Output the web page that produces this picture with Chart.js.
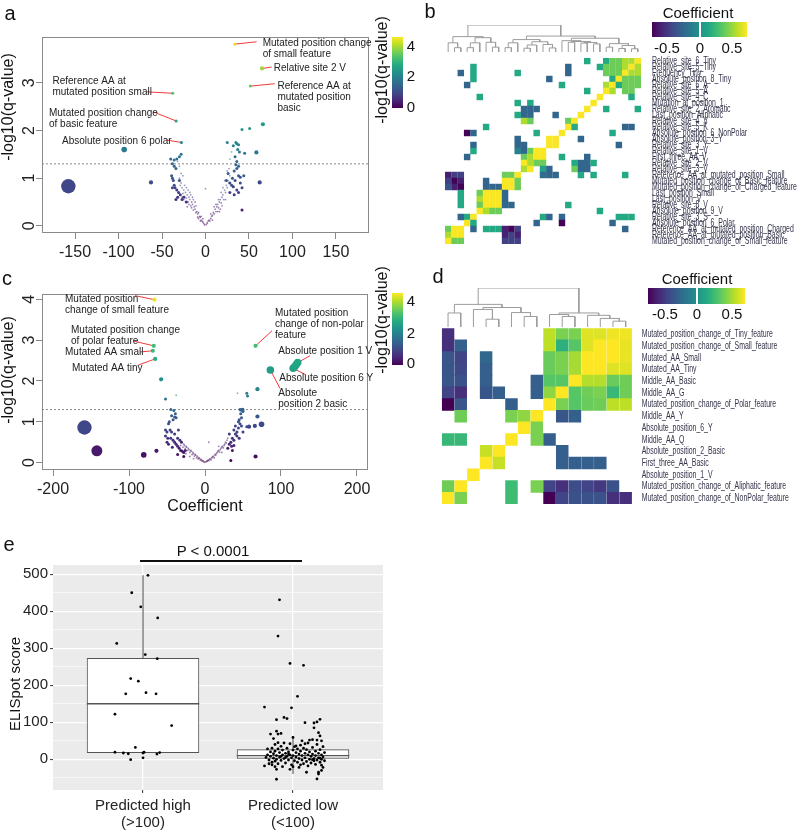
<!DOCTYPE html>
<html><head><meta charset="utf-8">
<script src="https://cdn.jsdelivr.net/npm/chart.js@4.4.1/dist/chart.umd.min.js"></script>
<style>
body{margin:0;background:#fff;width:800px;height:831px;position:relative;overflow:hidden;font-family:"Liberation Sans",Arial,sans-serif;}
canvas{position:absolute;}
.t{position:absolute;white-space:nowrap;color:#111;line-height:1;transform:translate(-50%,-50%);}
.r{transform:translate(-50%,-50%) rotate(-90deg);}
.cb{position:absolute;}
</style></head><body>
<canvas id="cA" width="380" height="265" style="left:0;top:0"></canvas>
<canvas id="cC" width="380" height="230" style="left:0;top:270px"></canvas>
<canvas id="dB" width="370" height="40" style="left:430px;top:18px"></canvas>
<canvas id="hB" width="370" height="200" style="left:430px;top:50px"></canvas>
<canvas id="dD" width="370" height="46" style="left:430px;top:284px"></canvas>
<canvas id="hD" width="370" height="190" style="left:430px;top:320px"></canvas>
<canvas id="cE" width="400" height="291" style="left:0;top:540px"></canvas>

<div class="t" style="left:10px;top:13px;font-size:20px">a</div>
<div class="t" style="left:430px;top:11px;font-size:20px">b</div>
<div class="t" style="left:7px;top:278px;font-size:20px">c</div>
<div class="t" style="left:438px;top:276px;font-size:20px">d</div>
<div class="t" style="left:9px;top:544px;font-size:20px">e</div>

<div class="t r" style="left:8px;top:107px;font-size:16px">-log10(q-value)</div>
<div class="t r" style="left:382px;top:70px;font-size:16px">-log10(q-value)</div>
<div class="cb" id="cbA" style="left:392px;top:37px;width:11px;height:71px"></div>
<div class="t" style="left:411px;top:45px;font-size:15px">4</div>
<div class="t" style="left:411px;top:75px;font-size:15px">2</div>
<div class="t" style="left:411px;top:106px;font-size:15px">0</div>

<div class="t r" style="left:8px;top:370px;font-size:16px">-log10(q-value)</div>
<div class="t r" style="left:382px;top:320px;font-size:16px">-log10(q-value)</div>
<div class="cb" id="cbC" style="left:392px;top:293px;width:11px;height:72px"></div>
<div class="t" style="left:411px;top:300px;font-size:15px">4</div>
<div class="t" style="left:411px;top:332px;font-size:15px">2</div>
<div class="t" style="left:411px;top:362px;font-size:15px">0</div>
<div class="t" style="left:205px;top:506px;font-size:16px">Coefficient</div>

<div class="t" style="left:698px;top:12px;font-size:15px">Coefficient</div>
<div class="cb" id="cbB" style="left:652px;top:22px;width:95px;height:15px"></div>
<div class="cb" style="left:699px;top:22px;width:1.5px;height:15px;background:#fff"></div>
<div class="t" style="left:667px;top:47px;font-size:15px">-0.5</div>
<div class="t" style="left:700px;top:47px;font-size:15px">0</div>
<div class="t" style="left:732px;top:47px;font-size:15px">0.5</div>

<div class="t" style="left:697px;top:278px;font-size:15px">Coefficient</div>
<div class="cb" id="cbD" style="left:648px;top:288px;width:97px;height:16px"></div>
<div class="cb" style="left:696px;top:288px;width:1.5px;height:16px;background:#fff"></div>
<div class="t" style="left:665px;top:313px;font-size:15px">-0.5</div>
<div class="t" style="left:697px;top:313px;font-size:15px">0</div>
<div class="t" style="left:732px;top:313px;font-size:15px">0.5</div>

<div class="t r" style="left:14px;top:684px;font-size:15px">ELISpot score</div>
<div class="t" style="left:213px;top:550px;font-size:15px">P &lt; 0.0001</div>
<div class="cb" style="left:140px;top:560px;width:162px;height:1.5px;background:#111"></div>

<script>
// ===================== DATA =====================
// Panel a: volcano (coefficient, -log10 q)
const aTiny = [[-1,0.02],[-2,0.05],[-3,0.08],[-3,0.15],[-4,0.1],[-5,0.12],[-6,0.18],[-6,0.1],[-7,0.2],[-8,0.15],[-8,0.28],[-9,0.25],[-10,0.3],[-11,0.28],[-12,0.35],[-12,0.5],[-13,0.4],[-14,0.33],[-15,0.45],[-15,0.6],[-16,0.5],[-16,0.38],[-17,0.42],[-18,0.55],[-18,0.7],[-19,0.6],[-20,0.5],[-20,0.75],[-21,0.65],[-22,0.58],[-22,0.8],[-23,0.7],[-24,0.62],[-24,0.85],[-25,0.75],[-25,0.55],[-26,0.68],[-26,1.05],[-27,0.8],[-27,0.6],[-28,0.9],[-28,1.1],[-29,0.85],[-30,1.0],[-30,1.25],[-32,1.35],[-19,0.45],[-21,0.4],[-14,0.55],[-11,0.42],[-23,0.5],[-17,0.65],[-9,0.18],[-5,0.2],
 [1,0.03],[2,0.06],[3,0.1],[4,0.12],[5,0.1],[6,0.15],[7,0.2],[8,0.22],[9,0.28],[10,0.25],[10,0.4],[11,0.35],[12,0.3],[12,0.45],[13,0.4],[14,0.45],[15,0.38],[15,0.55],[16,0.5],[16,0.3],[17,0.55],[18,0.48],[18,0.7],[19,0.6],[20,0.65],[20,0.8],[21,0.55],[22,0.75],[22,0.95],[23,0.7],[24,0.85],[25,0.8],[25,1.15],[26,0.95],[27,0.9],[27,1.2],[28,1.05],[28,1.4],[30,1.55],[0,0.78],[14,0.3],[19,0.42],[23,0.55],[17,0.35],[8,0.12],[6,0.25]];
const aSmall = [[-40,1.4],[-38,1.3],[-36,1.38],[-33,1.4],[-30,1.45],[-28,1.5],[-39,1.05],[-38,1.0],[-37,0.95],[-36,0.85],[-35,0.8],[-33,0.75],[-31,0.7],[-38,0.8],[-29,0.65],[-34,1.2],[-36,1.25],[-30,0.95],[-32,0.6],[-27,0.55],[-25,0.6],[-34,0.55],[-22,0.5],
 [25,1.75],[32,1.68],[35,1.75],[36,1.72],[38,1.7],[37,1.6],[39,1.55],[34,1.45],[36,1.35],[35,1.28],[38,1.25],[36,1.2],[33,1.15],[31,1.0],[26,1.1],[28,0.9],[30,0.85],[32,0.82],[34,0.95],[38,1.05],[40,1.02],[44,1.05],[36,0.75],[33,0.65],[28,0.7],[40,0.9],[42,0.8],[38,0.7],[24,0.95]];
// [coef, -log10 q, bubble weight]
const aOther = [[33.5,3.81,2],[65,3.3,3],[51.5,2.93,2],[-37.7,2.78,2],[-33.8,2.2,2],[-27.7,1.75,2],[-93.5,1.6,4],[-157.7,0.83,7],[-62.7,0.91,3],[62.3,0.91,3],[42,2.02,2],[50.8,2.04,2],[66,2.13,3],[58.5,1.54,3],[45,1.52,2],[42,0.33,2]];
const aXTicks = [-150,-100,-50,0,50,100,150];
const aYTicks = [0,1,2,3];
const aNotes = [
 {lines:["Mutated position change","of small feature"], at:[65.7,3.83], pt:[33.5,3.81], end:[58.8,3.86]},
 {lines:["Relative site 2 V"], at:[78.4,3.31], pt:[65,3.3], end:[76.1,3.33]},
 {lines:["Reference AA at","mutated position","basic"], at:[82.7,2.93], pt:[51.5,2.93], end:[79.6,2.98]},
 {lines:["Reference AA at","mutated position small"], at:[-176,3.04], pt:[-37.7,2.78], end:[-67.7,2.81]},
 {lines:["Mutated position change","of basic feature"], at:[-180,2.37], pt:[-33.8,2.2], end:[-60,2.39]},
 {lines:["Absolute position 6 polar"], at:[-165,1.78], pt:[-27.7,1.75], end:[-45.3,1.80]}
];

// Panel c: volcano
const cTiny = [[-1,0.01],[-2,0.03],[-3,0.05],[-4,0.04],[-5,0.08],[-6,0.06],[-7,0.1],[-8,0.12],[-9,0.09],[-10,0.15],[-11,0.12],[-12,0.18],[-13,0.2],[-14,0.16],[-15,0.22],[-16,0.25],[-17,0.2],[-18,0.28],[-19,0.3],[-20,0.25],[-21,0.32],[-22,0.35],[-23,0.3],[-24,0.38],[-25,0.4],[-26,0.35],[-27,0.42],[-28,0.45],[-29,0.38],[-30,0.5],[-32,0.42],[-20,0.15],[-25,0.22],[-15,0.1],[-30,0.3],
 [1,0.02],[2,0.03],[3,0.04],[4,0.06],[5,0.05],[6,0.08],[7,0.1],[8,0.07],[9,0.12],[10,0.14],[11,0.16],[12,0.12],[13,0.2],[14,0.18],[15,0.22],[16,0.25],[17,0.28],[18,0.3],[19,0.26],[20,0.32],[21,0.35],[22,0.38],[23,0.4],[24,0.36],[25,0.42],[26,0.45],[27,0.5],[28,0.48],[29,0.55],[30,0.6],[5,0.5],[22,0.25],[18,0.4]];
const cSmall = [[-50,0.5],[-48,0.45],[-45,0.6],[-42,0.55],[-40,0.5],[-38,0.45],[-36,0.4],[-34,0.35],[-32,0.3],[-30,0.28],[-28,0.25],[-26,0.3],[-36,0.6],[-40,0.7],[-44,0.75],[-46,0.8],[-50,0.75],[-52,0.65],[-48,0.95],[-47,1.0],[-42,1.05],[-40,1.12],[-38,1.1],[-44,1.15],[-45,1.3],[-41,1.28],[-39,1.2],[-52,0.8],[-35,0.8],[-33,0.55],[-31,0.5],[-36,0.2],[-28,0.15],[-49,0.6],[-43,0.38],
 [30,0.35],[32,0.45],[34,0.5],[35,0.4],[36,0.6],[38,0.55],[40,0.7],[42,0.65],[38,0.8],[40,0.9],[44,0.85],[46,0.95],[45,1.05],[48,1.1],[47,1.2],[46,1.3],[44,1.0],[42,0.75],[36,0.3],[34,0.05],[50,1.25],[48,0.9],[45,0.6],[32,0.7],[55,0.88],[50,0.75],[38,0.42]];
const cOther = [[-158.6,0.86,7],[-142.3,0.29,6],[-80.6,0.19,4],[-63.9,0.29,3],[66.5,0.15,3],[74.4,0.94,4],[69,1.13,3],[49.3,1.29,3],[47,1.29,2],[69,1.8,3],[55,1.7,2],[56,1.63,2],[42.7,1.7,1],[-57.7,2.04,3],[-52,1.56,2],[-37.9,1.65,1],[86,2.27,5],[116,2.31,5],[118,2.35,5],[120,2.4,5],[122,2.45,5],[66.5,2.86,3],[-66.5,3.99,3],[-67.4,2.86,3],[-68.7,2.74,3],[-65.6,2.54,3],[58,0.88,3],[65.6,0.9,3]];
const cXTicks = [-200,-100,0,100,200];
const cYTicks = [0,1,2,3,4];
const cNotes = [
 {lines:["Mutated position","change of small feature"], at:[-184.2,4.01], pt:[-66.5,3.99], end:[-92.1,4.09]},
 {lines:["Mutated position change","of polar feature"], at:[-176.3,3.24], pt:[-67.4,2.86], end:[-94.3,2.98]},
 {lines:["Mutated AA small"], at:[-184.2,2.70], pt:[-68.7,2.74], end:[-85.5,2.71]},
 {lines:["Mutated AA tiny"], at:[-175,2.30], pt:[-65.6,2.54], end:[-87.8,2.39]},
 {lines:["Mutated position","change of non-polar","feature"], at:[92.1,3.66], pt:[66.5,2.86], end:[88.2,3.23]},
 {lines:["Absolute position 1 V"], at:[96.4,2.72], pt:[122,2.45], end:[138.2,2.62]},
 {lines:["Absolute position 6 Y"], at:[97.8,2.07], pt:[116,2.31], end:[132.9,2.15]},
 {lines:["Absolute","position 2 basic"], at:[96.4,1.70], pt:[86,2.27], end:[98.7,1.82]}
];
const qThreshold = 1.3;

// Panel b: correlation heatmap [row, col, coefficient]
const bLabels = ["Relative_site_6_Tiny","Relative_site_5_Tiny","Frequency_Tiny","Absolute_position_8_Tiny","Relative_site_6_A","Relative_site_5_A","Relative_site_4_C","Mutation_at_position_1","Relative_site_2_Aromatic","Last_position_Aliphatic","Relative_site_4_V","Relative_site_5_K","Absolute_position_6_NonPolar","Absolute_position_3_Y","Relative_site_3_Y","Relative_site_1_V","First_three_AA_V","Relative_site_2_V","Relative_site_3_V","Reference_AA_at_mutated_position_Small","Mutated_position_change_of_Basic_feature","Mutated_position_change_of_Charged_feature","Last_position_Small","Last_position_V","Relative_site_8_V","Absolute_position_9_V","Relative_site_3_S","Absolute_position_6_Polar","Reference_AA_at_mutated_position_Charged","Reference_AA_at_mutated_position_Basic","Mutated_position_change_of_Small_feature"];
const bCells = [
[0,22,0.15],[0,25,0.15],[0,26,0.4],[0,27,0.4],[0,28,0.55],[0,29,0.55],[0,30,0.72],
[1,4,0.15],[1,19,-0.25],[1,24,0.15],[1,25,0.4],[1,26,0.4],[1,27,0.4],[1,28,0.55],[1,29,0.72],[1,30,0.55],
[2,2,-0.25],[2,4,0.15],[2,11,0.15],[2,19,-0.25],[2,25,0.4],[2,26,0.4],[2,27,0.4],[2,28,0.72],[2,29,0.55],[2,30,0.55],
[3,4,0.15],[3,16,-0.25],[3,26,0.15],[3,27,0.72],[3,28,0.4],[3,29,0.4],[3,30,0.4],
[4,3,-0.25],[4,18,0.15],[4,25,0.55],[4,26,0.72],[4,27,0.15],[4,28,0.4],[4,29,0.4],[4,30,0.4],
[5,22,0.15],[5,25,0.72],[5,26,0.55],[5,28,0.4],[5,29,0.4],
[6,5,0.15],[6,24,0.72],[6,29,0.15],
[7,11,0.15],[7,13,0.15],[7,23,0.72],
[8,12,-0.25],[8,13,-0.25],[8,14,-0.25],[8,22,0.72],[8,25,0.15],[8,30,0.15],
[9,11,0.15],[9,12,-0.25],[9,13,-0.25],[9,17,-0.25],[9,21,0.72],
[10,12,0.55],[10,13,0.4],[10,19,0.4],[10,20,0.72],
[11,6,0.15],[11,19,0.72],[11,20,0.15],[11,28,-0.25],[11,29,-0.25],
[12,3,-0.72],[12,4,-0.25],[12,14,0.15],[12,18,0.72],[12,26,0.15],
[13,11,-0.25],[13,16,0.72],[13,17,0.72],[13,21,-0.25],
[14,4,-0.25],[14,11,-0.25],[14,12,-0.25],[14,16,0.72],[14,17,0.72],[14,27,-0.25],
[15,4,0.15],[15,11,-0.1],[15,12,-0.25],[15,13,0.4],[15,14,0.72],[15,15,0.72],
[16,3,-0.25],[16,12,0.4],[16,13,0.55],[16,14,0.72],[16,15,0.72],[16,18,0.15],[16,22,-0.25],
[17,12,0.72],[17,13,0.55],[17,14,0.4],[17,15,0.4],[17,20,0.15],[17,21,-0.25],[17,22,-0.25],[17,23,0.15],
[18,12,0.55],[18,13,0.72],[18,15,0.1],[18,16,-0.25],[18,20,0.4],[18,21,-0.25],[18,22,-0.25],
[19,0,-0.6],[19,1,-0.45],[19,2,-0.45],[19,9,0.4],[19,10,0.4],[19,11,0.72],[19,15,-0.2],[19,16,-0.25],[19,17,-0.25],[19,21,0.15],[19,23,0.15],[19,28,0.15],
[20,0,-0.45],[20,1,-0.72],[20,2,-0.6],[20,6,-0.25],[20,9,0.72],[20,10,0.72],[20,11,0.4],
[21,0,-0.35],[21,1,-0.6],[21,2,-0.72],[21,6,-0.25],[21,7,-0.25],[21,8,-0.25],[21,9,0.72],[21,10,0.72],[21,11,0.4],
[22,2,0.15],[22,5,0.4],[22,6,0.72],[22,7,0.72],[22,8,0.72],[22,9,-0.25],
[23,2,0.15],[23,5,0.55],[23,6,0.72],[23,7,0.72],[23,8,0.72],[23,9,-0.25],
[24,2,0.15],[24,5,0.4],[24,6,0.72],[24,7,0.72],[24,8,0.72],[24,9,-0.25],[24,10,-0.25],[24,19,0.15],
[25,5,0.72],[25,6,0.55],[25,7,0.4],[25,8,0.4],[25,24,0.15],
[26,2,-0.25],[26,3,0.15],[26,4,0.72],[26,15,0.15],[26,16,-0.25],[26,18,-0.25],[26,27,0.15],[26,28,0.15],[26,29,0.15],
[27,3,0.72],[27,4,0.15],[27,14,-0.25],[27,18,-0.72],[27,26,-0.25],
[28,0,0.4],[28,1,0.72],[28,2,0.72],[28,4,-0.25],[28,6,0.15],[28,7,0.15],[28,8,0.15],[28,9,-0.6],[28,10,-0.72],[28,11,-0.45],[28,28,-0.25],
[29,0,0.55],[29,1,0.72],[29,2,0.72],[29,9,-0.6],[29,10,-0.45],[29,11,-0.6],
[30,0,0.72],[30,1,0.4],[30,2,0.4],[30,9,-0.45],[30,10,-0.45],[30,11,-0.45]];
// dendrogram of b columns: [height, left, right], leaf = column index
const bTree = [10,
 [5.7, [3.4, 0, [1.6, 1, 2]], [5.3, [3.4, [1.6, 3, 4], 5], [3.6, 6, [1.8, 7, 8]]]],
 [5.9, [4.6, [3.4, [1.6, 9, 10], 11], [3.8, [2.6, [1.4, 12, 13], 14], [2.8, 15, [1.5, 16, 17]]]],
       [5.1, [4.2, 18, [3.9, [3.6, 19, 20], [3.5, [3.3, 21, 22], [3.0, 23, 24]]]],
             [3.1, [1.8, 25, 26], [2.4, [1.3, 27, 28], [1.2, 29, 30]]]]]];

// Panel d: heatmap rows x columns (null = not shown)
const dLabels = ["Mutated_position_change_of_Tiny_feature","Mutated_position_change_of_Small_feature","Mutated_AA_Small","Mutated_AA_Tiny","Middle_AA_Basic","Middle_AA_G","Mutated_position_change_of_Polar_feature","Middle_AA_Y","Absolute_position_6_Y","Middle_AA_Q","Absolute_position_2_Basic","First_three_AA_Basic","Absolute_position_1_V","Mutated_position_change_of_Aliphatic_feature","Mutated_position_change_of_NonPolar_feature"];
const dMatrix = [
[-0.55,null,null,null,null,null,null,null,0.6,0.45,0.45,0.68,0.68,0.72,0.72],
[-0.55,-0.3,null,null,null,null,null,null,0.6,0.2,0.35,0.68,0.75,0.75,0.7],
[-0.35,-0.45,null,-0.25,null,null,null,null,0.4,0.45,0.55,0.75,0.75,0.75,0.7],
[-0.35,-0.42,null,-0.3,null,null,null,null,0.4,0.45,0.55,0.75,0.75,0.68,0.68],
[-0.35,-0.38,null,-0.3,null,null,null,-0.3,0.35,0.35,0.75,0.58,0.58,0.4,0.42],
[-0.45,-0.55,null,-0.35,-0.3,null,null,-0.3,0.5,0.75,0.35,0.42,0.45,0.25,0.42],
[-0.75,-0.35,null,null,null,-0.3,null,null,0.75,0.45,0.35,0.4,0.42,0.6,0.6],
[null,0.42,null,null,null,0.45,0.5,0.75,null,-0.35,-0.3,null,null,null,null],
[null,null,null,null,null,null,0.75,0.45,null,null,null,null,null,null,null],
[0.25,0.25,null,null,null,0.75,null,0.45,-0.3,null,null,null,null,null,null],
[null,null,null,0.62,0.75,null,null,null,null,-0.3,null,null,null,null,null],
[null,null,null,0.75,0.62,null,null,null,null,-0.3,-0.3,-0.3,-0.3,null,null],
[null,null,0.75,null,null,null,null,null,null,null,null,null,null,null,null],
[0.42,0.75,null,null,null,0.28,null,0.45,-0.45,-0.55,-0.4,-0.45,-0.5,-0.38,null],
[0.75,0.45,null,null,null,0.28,null,null,-0.75,-0.45,-0.38,-0.38,-0.38,-0.55,-0.55]];
const dTree = [10,
 [5.8, [3.6, 0, 1], [5.0, [4.5, 2, [2.0, 3, 4]], [3.7, 5, [2.7, 6, 7]]]],
 [3.6, [3.2, 8, [2.7, 9, 10]], [3.0, 11, [2.2, 12, [1.5, 13, 14]]]]];

// Panel e: ELISpot box plot
const eGroupLabels = [["Predicted high","(>100)"],["Predicted low","(<100)"]];
const eQ1 = [17, 0], eMedian = [150, 10], eQ3 = [274, 27];
const eWhiskerLow = [15, -40], eWhiskerHigh = [497, 63];
const eHigh = [[1.033,497],[0.925,450],[0.985,412],[1.098,382],[0.825,313],[1.015,283],[1.095,272],[0.918,218],[0.969,211],[0.885,177],[1.02,180],[1.087,177],[0.813,122],[1.191,91],[0.949,32],[0.813,19],[0.869,17],[0.902,15],[1.007,19],[1.0,17],[1.093,14],[1.111,18],[0.918,-1],[1.0,4]];
const eLow = [[1.91,431],[1.90,333],[1.98,259],[2.07,254],[2.03,170],[1.81,141],[1.99,139],[1.89,107],[1.94,113],[1.96,110],[2.08,99],[2.18,108],[2.16,101],[2.14,98],[2.14,85],[1.89,76],[1.92,70],[1.90,68],[1.85,68],[2.17,72],[2.18,63],[2.00,59],[1.87,56],[2.11,52],[2.13,53],[2.16,52],[2.19,50],[2.06,50],
 [1.89,-54],[2.16,-53],[2.17,-40],[2.17,-35],[2.09,-35],[2.20,-22],[1.81,-18],[1.89,-27],[1.98,-27],[2.04,-22],[2.19,-30],[1.84,-12],[1.93,-20],
 [1.82,5],[1.83,12],[1.84,-2],[1.85,20],[1.85,8],[1.86,30],[1.86,-8],[1.87,15],[1.87,3],[1.88,40],[1.88,22],[1.88,-5],[1.89,10],[1.89,0],[1.90,28],[1.90,-12],[1.91,18],[1.91,6],[1.92,35],[1.92,-3],[1.93,12],[1.93,25],[1.94,2],[1.94,44],[1.95,16],[1.95,-10],[1.96,8],[1.96,30],[1.97,-2],[1.97,20],[1.98,12],[1.98,42],[1.99,4],[1.99,-15],[2.00,25],[2.00,10],[2.01,34],[2.01,-4],[2.02,18],[2.02,6],[2.03,28],[2.03,-8],[2.04,14],[2.04,2],[2.05,38],[2.05,22],[2.06,-2],[2.06,10],[2.07,30],[2.07,-12],[2.08,16],[2.08,4],[2.09,26],[2.09,-6],[2.10,12],[2.10,44],[2.11,0],[2.11,20],[2.12,8],[2.12,-10],[2.13,32],[2.13,14],[2.14,2],[2.14,-4],[2.15,22],[2.15,10],[2.16,40],[2.16,-2],[2.17,16],[2.17,4],[2.18,26],[2.18,-8],[2.19,12],[2.19,0],[2.20,34],[2.20,6],[2.21,-4],[2.21,18],[1.83,28],[1.86,-15],[1.90,45],[1.95,5],[2.00,-20],[2.05,-15],[2.10,-18],[2.15,-14],[2.19,-16],[1.88,-20],[1.92,8],[1.97,14],[2.02,36],[2.08,42],[2.13,-1],[2.18,3]];
const eYTicks = [-50,0,50,100,150,200,250,300,350,400,450,500];

// ===================== RENDERING =====================
const VIR = ['#440154','#482475','#414487','#355f8d','#2a788e','#21918c','#22a884','#44bf70','#7ad151','#bddf26','#fde725'];
function hex2rgb(h){return [parseInt(h.slice(1,3),16),parseInt(h.slice(3,5),16),parseInt(h.slice(5,7),16)];}
function viridis(t,a){ if(a===undefined)a=1; t=Math.max(0,Math.min(1,t)); const n=VIR.length-1; const i=Math.min(n-1,Math.floor(t*n)); const f=t*n-i; const c1=hex2rgb(VIR[i]),c2=hex2rgb(VIR[i+1]); const c=c1.map((v,k)=>Math.round(v+(c2[k]-v)*f)); return 'rgba('+c[0]+','+c[1]+','+c[2]+','+a+')'; }
document.getElementById('cbA').style.background='linear-gradient(to top,'+VIR.join(',')+')';
document.getElementById('cbC').style.background='linear-gradient(to top,'+VIR.join(',')+')';
document.getElementById('cbB').style.background='linear-gradient(to right,'+VIR.join(',')+')';
document.getElementById('cbD').style.background='linear-gradient(to right,'+VIR.join(',')+')';

Chart.defaults.font.family='"Liberation Sans", Arial, sans-serif';
Chart.defaults.animation=false;
Chart.defaults.events=[];
Chart.defaults.plugins.legend.display=false;
Chart.defaults.plugins.tooltip.enabled=false;
const FONT='"Liberation Sans", Arial, sans-serif';
const RAD={1:0.9,2:1.5,3:2.1,4:2.8,5:3.8,6:5.5,7:7.2};

function volcano(id, o){
  const pts=[].concat(o.tiny.map(p=>({x:p[0],y:p[1],w:1})), o.small.map(p=>({x:p[0],y:p[1],w:2})), o.other.map(p=>({x:p[0],y:p[1],w:p[2]})));
  const seg=[]; o.notes.forEach(n=>{seg.push({x:n.pt[0],y:n.pt[1]},{x:n.end[0],y:n.end[1]},{x:NaN,y:NaN});});
  const deco={id:'deco'+id, afterDraw(ch){
    const c=ch.ctx, a=ch.chartArea, xs=ch.scales.x, ys=ch.scales.y;
    c.save(); c.strokeStyle='#8a8a8a'; c.lineWidth=1; c.strokeRect(a.left+0.5,a.top+0.5,a.right-a.left-1,a.bottom-a.top-1);
    c.fillStyle='#222'; c.font='16px '+FONT; c.textAlign='center'; c.textBaseline='middle';
    o.yTicks.forEach(v=>{c.save(); c.translate(a.left-12, ys.getPixelForValue(v)); c.rotate(-Math.PI/2); c.fillText(String(v),0,0); c.restore();});
    c.font='10px '+FONT; c.textAlign='left'; c.fillStyle='#222';
    o.notes.forEach(n=>{const x=xs.getPixelForValue(n.at[0]), y=ys.getPixelForValue(n.at[1]); n.lines.forEach((l,i)=>c.fillText(l,x,y+i*11));});
    c.restore();
  }};
  new Chart(document.getElementById(id),{
    type:'scatter',
    data:{datasets:[
      {data:pts, order:0, pointRadius:ctx=>RAD[ctx.raw.w], borderWidth:0,
       backgroundColor:ctx=>viridis(ctx.raw.y/o.qmax, ctx.raw.w===1?0.55:1)},
      {type:'line', data:seg, order:1, borderColor:'#f23a3a', borderWidth:1, pointRadius:0, spanGaps:false},
      {type:'line', data:[{x:o.xmin,y:qThreshold},{x:o.xmax,y:qThreshold}], order:2, borderColor:'#888', borderWidth:1, borderDash:[2,2], pointRadius:0}
    ]},
    options:{responsive:false, devicePixelRatio:1, layout:{padding:o.pad},
      scales:{
        x:{type:'linear', min:o.xmin, max:o.xmax, afterBuildTicks:s=>{s.ticks=o.xTicks.map(v=>({value:v}));}, afterFit:s=>{s.height=o.xh;},
           grid:{drawOnChartArea:false, color:'#888', tickLength:6}, border:{display:false},
           ticks:{font:{size:16}, color:'#222', padding:4, maxRotation:0, autoSkip:false}},
        y:{type:'linear', min:o.ymin, max:o.ymax, afterBuildTicks:s=>{s.ticks=o.yTicks.map(v=>({value:v}));}, afterFit:s=>{s.width=42;},
           grid:{drawOnChartArea:false, color:'#888', tickLength:6}, border:{display:false}, ticks:{display:false}}
      }},
    plugins:[deco]
  });
}
volcano('cA',{tiny:aTiny, small:aSmall, other:aOther, notes:aNotes, xTicks:aXTicks, yTicks:aYTicks, xmin:-188, xmax:188, ymin:-0.15, ymax:3.96, qmax:3.9, pad:{top:37,right:11,left:0,bottom:0}, xh:32});
volcano('cC',{tiny:cTiny, small:cSmall, other:cOther, notes:cNotes, xTicks:cXTicks, yTicks:cYTicks, xmin:-214.5, xmax:214.5, ymin:-0.18, ymax:4.13, qmax:4.1, pad:{top:24,right:12,left:0,bottom:0}, xh:30});

function treeSegments(node, segs){
  if(typeof node==='number') return {x:node,h:0};
  const L=treeSegments(node[1],segs), R=treeSegments(node[2],segs);
  segs.push({x:L.x,y:L.h},{x:L.x,y:node[0]},{x:R.x,y:node[0]},{x:R.x,y:R.h},{x:NaN,y:NaN});
  return {x:(L.x+R.x)/2,h:node[0]};
}
function dendro(id, tree, n, pad){
  const segs=[]; treeSegments(tree,segs);
  new Chart(document.getElementById(id),{type:'scatter',
    data:{datasets:[{data:segs, showLine:true, spanGaps:false, borderColor:'#9c9c9c', borderWidth:1, pointRadius:0}]},
    options:{responsive:false, devicePixelRatio:1, layout:{padding:pad},
      scales:{x:{type:'linear',display:false,min:-0.5,max:n-0.5}, y:{type:'linear',display:false,min:0,max:10}}}});
}
function heatmap(id, cells, labels, ncol, pad, lo, hi, gap){
  const nrow=labels.length;
  const lab={id:'lab'+id, afterDraw(ch){
    const c=ch.ctx, a=ch.chartArea, ys=ch.scales.y;
    c.save(); c.fillStyle='#33334a'; c.font='11px '+FONT; c.textAlign='left'; c.textBaseline='middle';
    labels.forEach((l,i)=>{c.save(); c.translate(a.right+gap, ys.getPixelForValue(i)); c.scale(0.63,1); c.fillText(l,0,0); c.restore();});
    c.restore();
  }};
  new Chart(document.getElementById(id),{type:'scatter',
    data:{datasets:[{data:cells.map(q=>({x:q[1],y:q[0],v:q[2]})), pointStyle:'rect', borderWidth:0,
      pointRadius:ctx=>{const a=ctx.chart.chartArea; if(!a) return 3; const s=((a.right-a.left)/ncol+(a.bottom-a.top)/nrow)/2+0.3; return s/(2*Math.SQRT1_2);},
      backgroundColor:ctx=>viridis((ctx.raw.v-lo)/(hi-lo))}]},
    options:{responsive:false, devicePixelRatio:1, layout:{padding:pad},
      scales:{x:{type:'linear',display:false,min:-0.5,max:ncol-0.5}, y:{type:'linear',display:false,min:-0.5,max:nrow-0.5,reverse:true}}},
    plugins:[lab]});
}
dendro('dB', bTree, 31, {left:15,right:159,top:7,bottom:6});
heatmap('hB', bCells, bLabels, 31, {left:15,right:159,top:8,bottom:6}, -0.73, 0.73, 11);
const dCells=[]; dMatrix.forEach((row,r)=>row.forEach((v,cI)=>{ if(v!==null) dCells.push([r,cI,v]); }));
dendro('dD', dTree, 15, {left:11.7,right:168,top:4,bottom:3});
heatmap('hD', dCells, dLabels, 15, {left:11.7,right:168,top:8.3,bottom:6}, -0.75, 0.75, 9.7);

// Panel e
(function(){
  const hw=0.375;
  const boxes=[0,1].map(i=>({x:i+1, y:[eQ1[i],eQ3[i]]}));
  const med=[], whisk=[];
  [0,1].forEach(i=>{
    med.push({x:i+1-hw,y:eMedian[i]},{x:i+1+hw,y:eMedian[i]},{x:NaN,y:NaN});
    whisk.push({x:i+1,y:eQ3[i]},{x:i+1,y:eWhiskerHigh[i]},{x:NaN,y:NaN},{x:i+1,y:eWhiskerLow[i]},{x:i+1,y:eQ1[i]},{x:NaN,y:NaN});
  });
  const pts=[].concat(eHigh,eLow).map(p=>({x:p[0],y:p[1]}));
  const bg={id:'bgE', beforeDraw(ch){const a=ch.chartArea,c=ch.ctx; c.save(); c.fillStyle='#ebebeb'; c.fillRect(a.left,a.top,a.right-a.left,a.bottom-a.top); c.restore();}};
  new Chart(document.getElementById('cE'),{type:'scatter',
    data:{datasets:[
      {data:pts, order:0, pointRadius:1.4, backgroundColor:'#000', borderWidth:0},
      {type:'line', data:med, order:1, borderColor:'#555', borderWidth:1.3, pointRadius:0, spanGaps:false},
      {type:'line', data:whisk, order:2, borderColor:'#555', borderWidth:1.1, pointRadius:0, spanGaps:false},
      {type:'bar', data:boxes, order:3, backgroundColor:'#fff', borderColor:'#555', borderWidth:1.1, borderSkipped:false, barPercentage:0.75, categoryPercentage:1}
    ]},
    options:{responsive:false, devicePixelRatio:1, layout:{padding:{top:25,right:17,left:0,bottom:0}},
      scales:{
        x:{type:'linear', min:0.4, max:2.6, offset:false, afterBuildTicks:s=>{s.ticks=[{value:1},{value:2}];}, afterFit:s=>{s.height=41;},
           grid:{offset:false, color:'#fff', lineWidth:1.2, tickColor:'#333', tickLength:3, tickWidth:1}, border:{display:false},
           ticks:{callback:v=>eGroupLabels[Math.round(v)-1], font:{size:15, lineHeight:1.15}, color:'#222', padding:4, maxRotation:0, autoSkip:false}},
        y:{type:'linear', min:-83, max:525, afterBuildTicks:s=>{s.ticks=eYTicks.map(v=>({value:v}));}, afterFit:s=>{s.width=53;},
           grid:{offset:false, color:'#fff', lineWidth:c=>(c.tick&&c.tick.value%100===0)?1.2:0.6, tickColor:c=>(c.tick&&c.tick.value%100===0&&c.tick.value>=0)?'#333':'rgba(0,0,0,0)', tickLength:3, tickWidth:1},
           border:{display:false},
           ticks:{callback:v=>(v%100===0&&v>=0)?String(v):'', font:{size:15}, color:'#222', padding:2, autoSkip:false}}
      }},
    plugins:[bg]});
})();
</script>
</body></html>
